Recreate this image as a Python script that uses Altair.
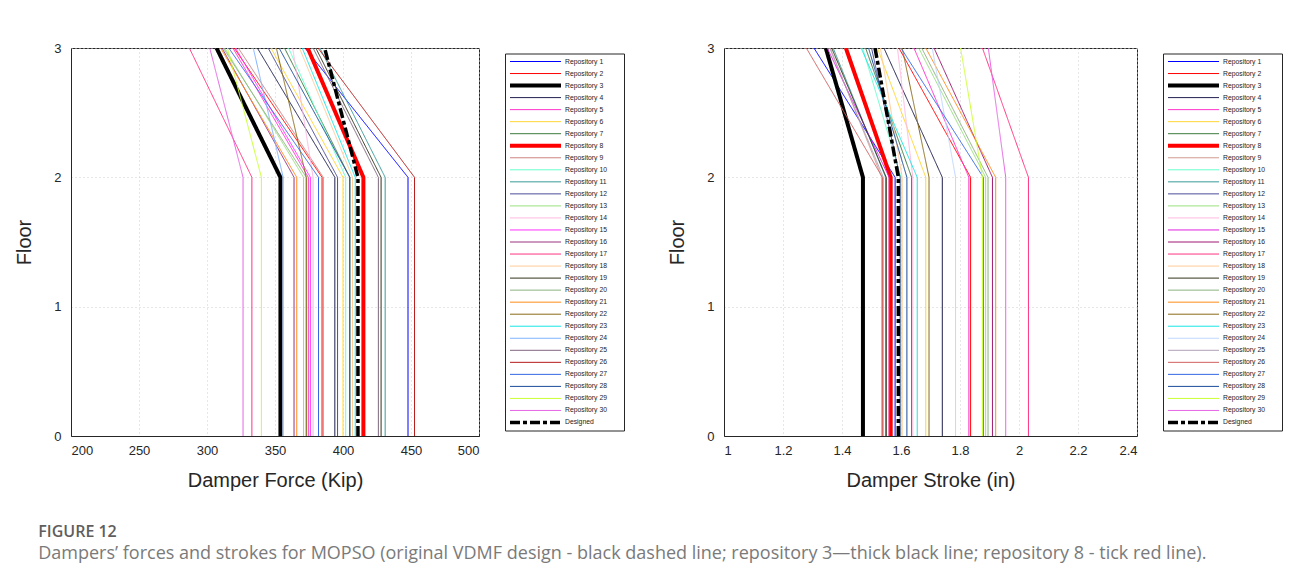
import altair as alt
import pandas as pd

# ---------------- data ----------------
REPOS = [f"Repository {i}" for i in range(1, 31)] + ["Designed"]
FLOORS = [0, 2, 3]

# damper force (kip) at floors 0-2 (same value) and at floor 3
FORCE_F2 = [447.8, 384.6, 354.0, 394.0, 374.5, 400.0, 405.0, 415.0, 385.5, 402.0,
            431.0, 396.0, 371.0, 378.0, 376.0, 364.0, 333.0, 407.0, 428.0, 373.0,
            366.0, 373.0, 409.0, 356.0, 426.0, 452.6, 382.0, 405.0, 340.0, 326.5,
            411.0]
FORCE_F3 = [372.0, 320.0, 307.0, 337.0, 319.0, 347.0, 357.0, 374.0, 323.0, 360.0,
            383.0, 345.0, 313.0, 363.0, 321.0, 311.0, 287.0, 368.0, 380.0, 312.0,
            310.0, 351.0, 370.0, 334.0, 378.0, 381.6, 316.0, 353.0, 315.0, 302.0,
            386.5]

# damper stroke (in)
STROKE_F2 = [1.580, 1.836, 1.471, 1.740, 1.830, 1.684, 1.636, 1.565, 1.535, 1.600,
             1.548, 1.597, 1.887, 1.640, 1.560, 1.910, 2.032, 1.604, 1.550, 1.895,
             1.921, 1.695, 1.655, 1.785, 1.540, 1.537, 1.879, 1.620, 1.876, 1.955,
             1.591]
STROKE_F3 = [1.305, 1.593, 1.345, 1.542, 1.644, 1.520, 1.480, 1.413, 1.360, 1.470,
             1.370, 1.500, 1.660, 1.588, 1.350, 1.712, 1.876, 1.530, 1.365, 1.670,
             1.684, 1.604, 1.465, 1.706, 1.358, 1.279, 1.600, 1.490, 1.802, 1.896,
             1.512]

FORCE_TICKS = [200, 250, 300, 350, 400, 450, 500]
STROKE_TICKS = [1.0, 1.2, 1.4, 1.6, 1.8, 2.0, 2.2, 2.4]
FLOOR_TICKS = [0, 1, 2, 3]

PALETTE_FORCE = ["#0000ff", "#ff0000", "#000000", "#1f1f4f", "#ff33cc", "#ffd633",
                 "#3d7a3d", "#ff0000", "#cc8480", "#66ffcc", "#3a9a9a", "#4d4d99",
                 "#99e080", "#ffb8e0", "#ff33ff", "#99337f", "#ff3380", "#ffcc99",
                 "#33331a", "#8cb380", "#ff8c1a", "#8c6b1a", "#1ae6e6", "#80b3ff",
                 "#806680", "#b31a1a", "#3366e6", "#1a4d99", "#ccff33", "#e666e6",
                 "#000000"]
PALETTE_STROKE = ["#0000ff", "#ff0000", "#000000", "#1f1f4f", "#ff33cc", "#ffd633",
                  "#3d7a3d", "#ff0000", "#d09a90", "#66ffcc", "#3a9a9a", "#4d4d99",
                  "#99e080", "#ffb8e0", "#e020e0", "#a01870", "#ff3380", "#ffcc99",
                  "#33331a", "#8cb380", "#ff8c1a", "#8c6b1a", "#1ae6e6", "#c0d8ff",
                  "#b0a0b8", "#d06060", "#3366e6", "#1a4d99", "#ccff33", "#e666e6",
                  "#000000"]
WIDTHS = [1.0] * 31
WIDTHS[2] = 4.0
WIDTHS[7] = 4.0
WIDTHS[30] = 3.5
DASHES = [[1, 0]] * 30 + [[10, 3, 4, 3]]

FONT = "Liberation Sans"


def long_table(f2, f3):
    rows = []
    for i, r in enumerate(REPOS):
        vals = [f2[i], f2[i], f3[i]]
        for fl, v in zip(FLOORS, vals):
            rows.append({"repo": r, "idx": i, "floor": fl, "value": v})
    return pd.DataFrame(rows)


def enc_style(palette):
    return dict(
        color=alt.Color("repo:N", scale=alt.Scale(domain=REPOS, range=palette), legend=None),
        strokeWidth=alt.StrokeWidth("repo:N", scale=alt.Scale(type="ordinal", domain=REPOS, range=WIDTHS),
                                    legend=None),
        strokeDash=alt.StrokeDash("repo:N", scale=alt.Scale(domain=REPOS, range=DASHES), legend=None),
    )


def panel(df, xdom, xticks, xfmt, xtitle, width, palette):
    return alt.Chart(df).mark_line(clip=True).encode(
        x=alt.X("value:Q",
                scale=alt.Scale(domain=xdom, nice=False, zero=False),
                axis=alt.Axis(values=xticks, format=xfmt, title=xtitle, grid=True,
                              ticks=False, tickSize=0, labelPadding=8, titlePadding=13)),
        y=alt.Y("floor:Q",
                scale=alt.Scale(domain=[0, 3], nice=False),
                axis=alt.Axis(values=FLOOR_TICKS, format="d", title="Floor", grid=True,
                              ticks=False, tickSize=0, labelPadding=10, titlePadding=19)),
        order=alt.Order("floor:Q"),
        detail="idx:O",
        **enc_style(palette),
    ).properties(width=width, height=388)


def legend_box(palette):
    ldf = pd.DataFrame({"repo": REPOS})
    y = alt.Y("repo:N", scale=alt.Scale(type="point", domain=REPOS, padding=0.665), axis=None)
    rules = alt.Chart(ldf).mark_rule().encode(
        x=alt.value(5), x2=alt.value(56), y=y, **enc_style(palette)
    )
    texts = alt.Chart(ldf).mark_text(align="left", baseline="middle", fontSize=6.8,
                                     font=FONT, color="#222222").encode(
        x=alt.value(60), y=y, text="repo:N"
    )
    return alt.layer(rules, texts).properties(width=119, height=377)


def spacer(width):
    return alt.Chart(pd.DataFrame({"a": [0]})).mark_text(text="").properties(
        width=width, height=10, view=alt.ViewBackground(strokeOpacity=0)
    )


force_df = long_table(FORCE_F2, FORCE_F3)
stroke_df = long_table(STROKE_F2, STROKE_F3)

left_plot = panel(force_df, [200, 500], FORCE_TICKS, "d", "Damper Force (Kip)", 408, PALETTE_FORCE)
right_plot = panel(stroke_df, [1.0, 2.4], STROKE_TICKS, "~g", "Damper Stroke (in)", 413, PALETTE_STROKE)

chart = alt.hconcat(
    left_plot, legend_box(PALETTE_FORCE), spacer(48), right_plot, legend_box(PALETTE_STROKE),
    spacing=26, bounds="flush", center=True,
).resolve_scale(
    color="independent", strokeWidth="independent", strokeDash="independent"
).properties(
    title=alt.Title(
        "FIGURE 12",
        subtitle="Dampers\u2019 forces and strokes for MOPSO (original VDMF design - black dashed line; "
                 "repository 3\u2014thick black line; repository 8 - tick red line).",
        orient="bottom", anchor="start", dx=24, offset=33,
        font="Open Sans", fontSize=16, fontWeight=600, color="#5e5e5e",
        subtitleFont="Open Sans", subtitleFontSize=18, subtitleColor="#7a7a7a",
        subtitlePadding=5,
    ),
    padding={"left": 6, "top": 33, "right": 0, "bottom": 5},
).configure(
    font=FONT,
).configure_view(
    stroke="#262626", strokeWidth=1,
).configure_axis(
    labelFont=FONT, labelFontSize=13, labelColor="#262626",
    titleFont=FONT, titleFontSize=20, titleFontWeight="normal", titleColor="#262626",
    domainColor="#262626", gridColor="#cfcfcf", gridDash=[1, 3], gridWidth=1,
)

chart.save("out.html", embed_options={"renderer": "svg", "actions": False})
